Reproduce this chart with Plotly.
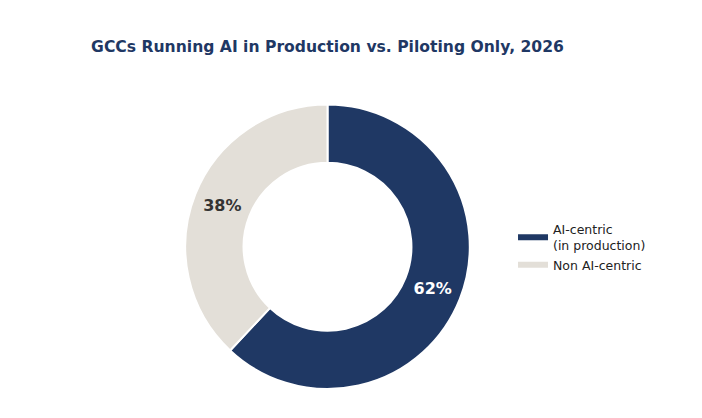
import plotly.graph_objects as go

labels = ["AI-centric<br>(in production)", "Non AI-centric"]
values = [62, 38]
colors = ["#1f3864", "#e3dfd8"]
text_colors = ["#ffffff", "#333333"]

W, H = 702, 418
font = "DejaVu Sans"

fig = go.Figure()
fig.add_trace(go.Pie(
    labels=labels,
    values=values,
    hole=0.59,
    sort=False,
    direction="clockwise",
    rotation=0,
    marker=dict(colors=colors, line=dict(color="white", width=2)),
    textinfo="percent",
    textposition="inside",
    insidetextorientation="horizontal",
    textfont=dict(family=font, size=16, color=text_colors, weight="bold"),
    domain=dict(x=[0.2522, 0.6581], y=[0.0885, 0.7692]),
    showlegend=False,
    hoverinfo="label+percent",
))

# legend entries drawn as short thick lines, like the reference
for name, col in zip(labels, colors):
    fig.add_trace(go.Scatter(
        x=[None], y=[None], mode="lines", name=name,
        line=dict(color=col, width=6),
        hoverinfo="skip",
    ))

fig.update_layout(
    width=W,
    height=H,
    margin=dict(l=0, r=0, t=0, b=0),
    paper_bgcolor="white",
    plot_bgcolor="white",
    font=dict(family=font, color="#222222"),
    title=dict(
        text="<b>GCCs Running AI in Production vs. Piloting Only, 2026</b>",
        x=319.5 / W, xanchor="center",
        y=1 - 39 / H, yanchor="middle", yref="container",
        font=dict(family=font, size=15.6, color="#1f3864"),
    ),
    legend=dict(
        x=0.7194, xanchor="left",
        y=0.428, yanchor="middle",
        font=dict(family=font, size=12.5, color="#222222"),
        bgcolor="rgba(0,0,0,0)",
        itemclick=False,
    ),
    xaxis=dict(visible=False, domain=[0.9, 1]),
    yaxis=dict(visible=False, domain=[0.9, 1]),
)

fig.write_html("out.html")
